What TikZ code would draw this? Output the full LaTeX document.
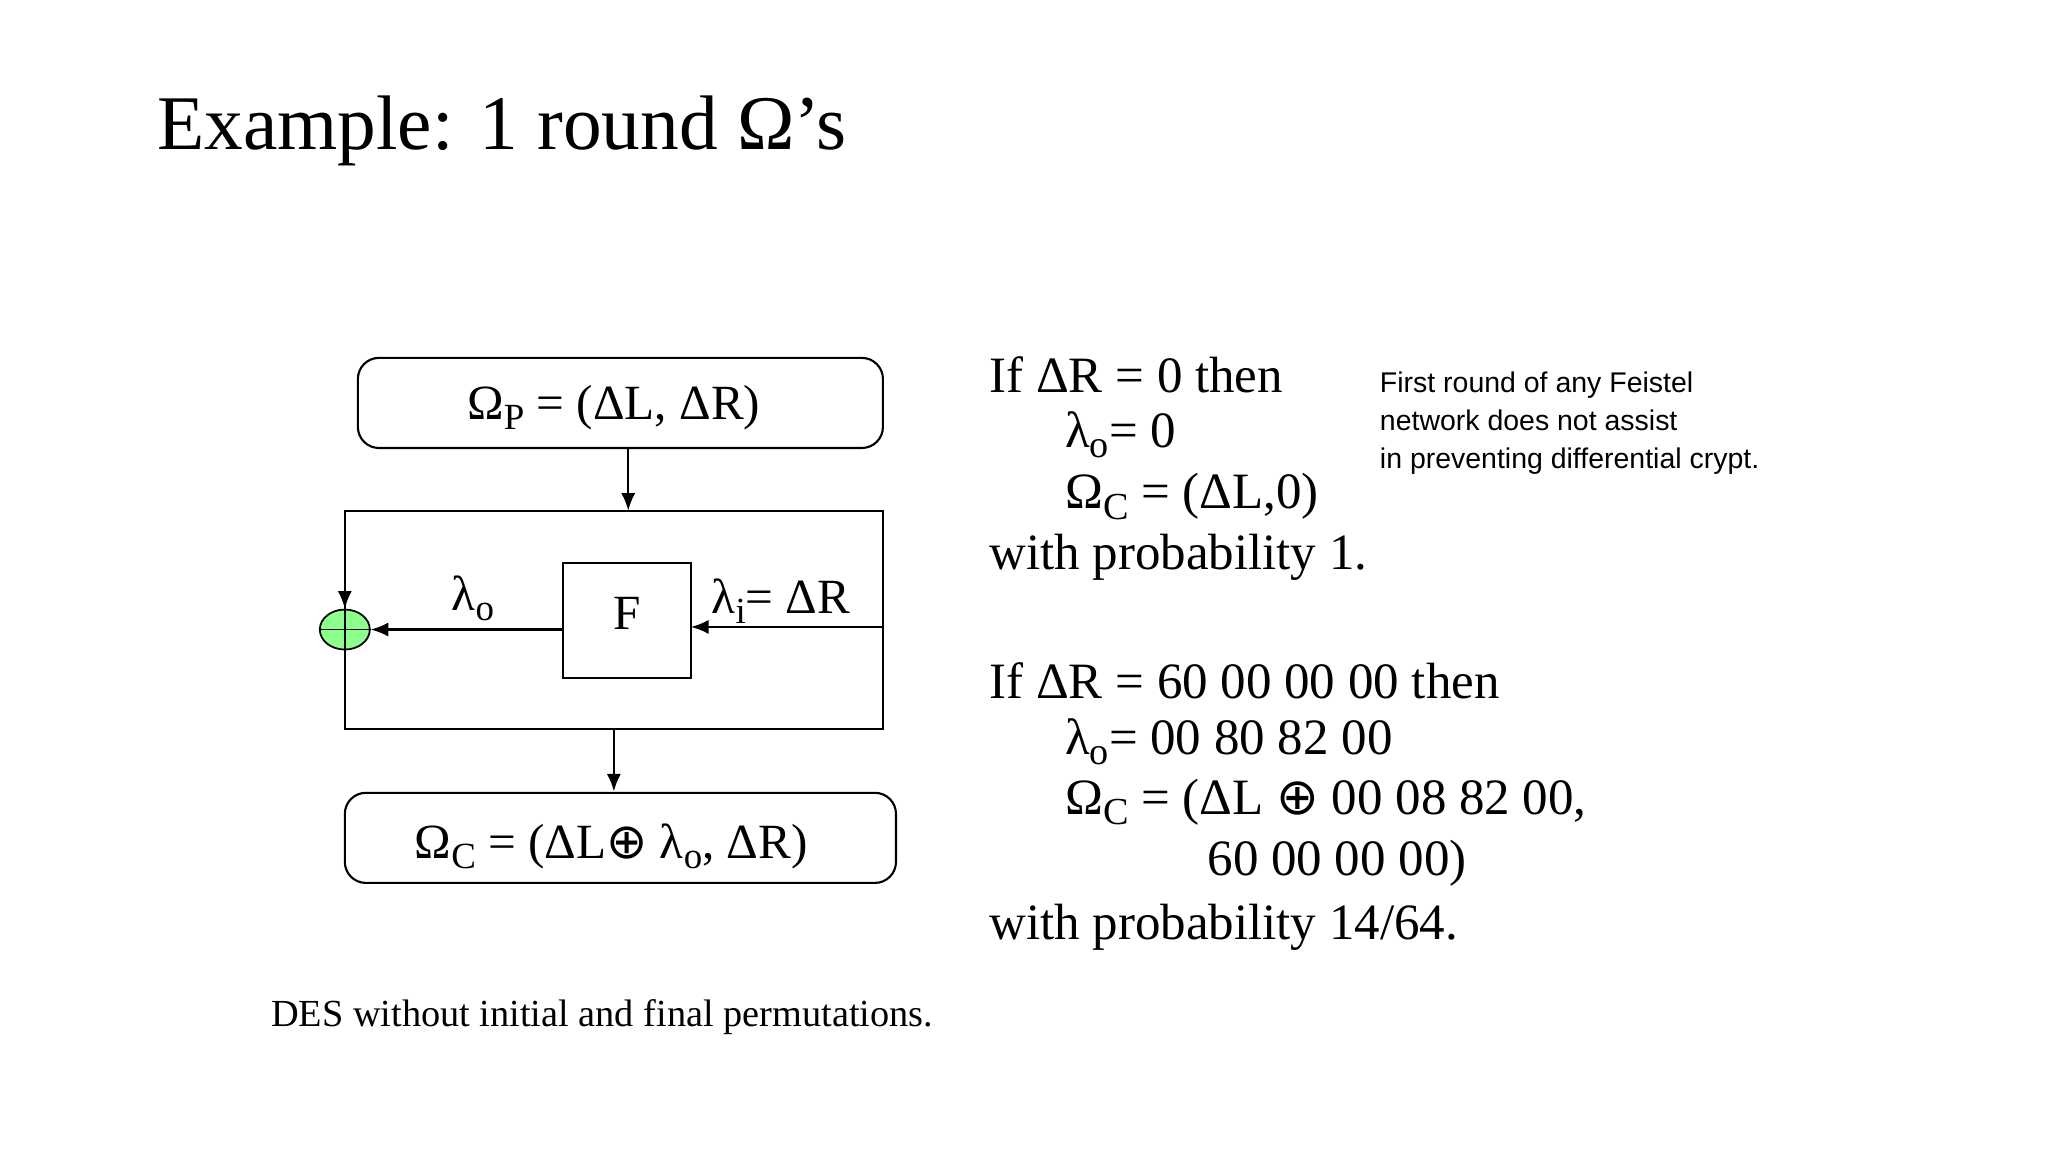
\documentclass[tikz,border=0pt]{standalone}
\usepackage{fontspec}
\setmainfont{Liberation Serif}
\newfontfamily\sansf{Liberation Sans}
\newfontfamily\dvs{DejaVu Sans}
\usetikzlibrary{arrows.meta,shapes.geometric}
\newcommand{\xo}{{\dvs\char"2295}}
\newcommand{\sbs}[1]{\raisebox{-0.45ex}{\fontsize{0.75em}{1em}\selectfont #1}}
\begin{document}
\begin{tikzpicture}[x=0.01306cm,y=-0.01306cm,
  box/.style={draw,rounded corners=6pt,line width=0.6pt},
  arr/.style={-{Latex[length=5pt,width=4pt]},line width=0.6pt},
  body/.style={font=\fontsize{14.5}{16}\selectfont,anchor=west,inner sep=0pt},
  nodet/.style={font=\fontsize{14}{15}\selectfont}]
\useasboundingbox (0,0) rectangle (1568,882);
\node[anchor=west,inner sep=0pt,font=\fontsize{22}{26}\selectfont] (title) at (120,100) {Example: 1 round Ω’s};
% diagram
\draw[box] (274,274) rectangle (676,343);
\node[nodet] (top) at (470,312) {Ω\sbs{P} = (ΔL, ΔR)};
\coordinate (t1) at (481,343); \coordinate (t2) at (481,391);
\draw[arr] (t1) -- (t2);
\draw[line width=0.6pt] (264,391) rectangle (676,558);
\draw[line width=0.6pt] (431,431) rectangle (529,519);
\node[nodet] (F) at (480,470) {F};
\node[draw,ellipse,fill=green!45,minimum width=0.5cm,minimum height=0.4cm,inner sep=0pt,line width=0.5pt] (x) at (264,482) {};
\draw[line width=0.5pt] (x.west)--(x.east) (x.north)--(x.south);
\coordinate (r) at (676,480); \coordinate (fr) at (529,480); \coordinate (fl) at (431,482);
\draw[arr] (r) -- (fr);
\draw[arr] (fl) -- (x.east);
\coordinate (c) at (264,391);
\draw[arr] (c) -- (x.north);
\node[nodet] at (598,460) {λ\sbs{i}= ΔR};
\node[nodet] at (362,458) {λ\sbs{o}};
\coordinate (b1) at (470,558); \coordinate (b2) at (470,606);
\draw[arr] (b1) -- (b2);
\draw[box] (264,607) rectangle (686,676);
\node[nodet] (bot) at (468,648) {Ω\sbs{C} = (ΔL\xo{} λ\sbs{o}, ΔR)};
% text
\node[body] at (757,287) {If ΔR = 0 then};
\node[body] at (815,333) {λ\sbs{o}= 0};
\node[body] at (815,380) {Ω\sbs{C} = (ΔL,0)};
\node[body] at (757,427) {with probability 1.};
\node[body] at (757,521) {If ΔR = 60 00 00 00 then};
\node[body] at (815,568) {λ\sbs{o}= 00 80 82 00};
\node[body] at (815,614) {Ω\sbs{C} = (ΔL \xo{} 00 08 82 00,};
\node[body] at (924,661) {60 00 00 00)};
\node[body] at (757,710) {with probability 14/64.};
\node[anchor=north west,align=left,inner sep=0pt,font=\sansf\fontsize{8.1}{10.8}\selectfont] at (1056,284) {First round of any Feistel\\network does not assist\\in preventing differential crypt.};
\node[font=\fontsize{10.9}{12}\selectfont] at (461,779) {DES without initial and final permutations.};
\end{tikzpicture}
\end{document}
